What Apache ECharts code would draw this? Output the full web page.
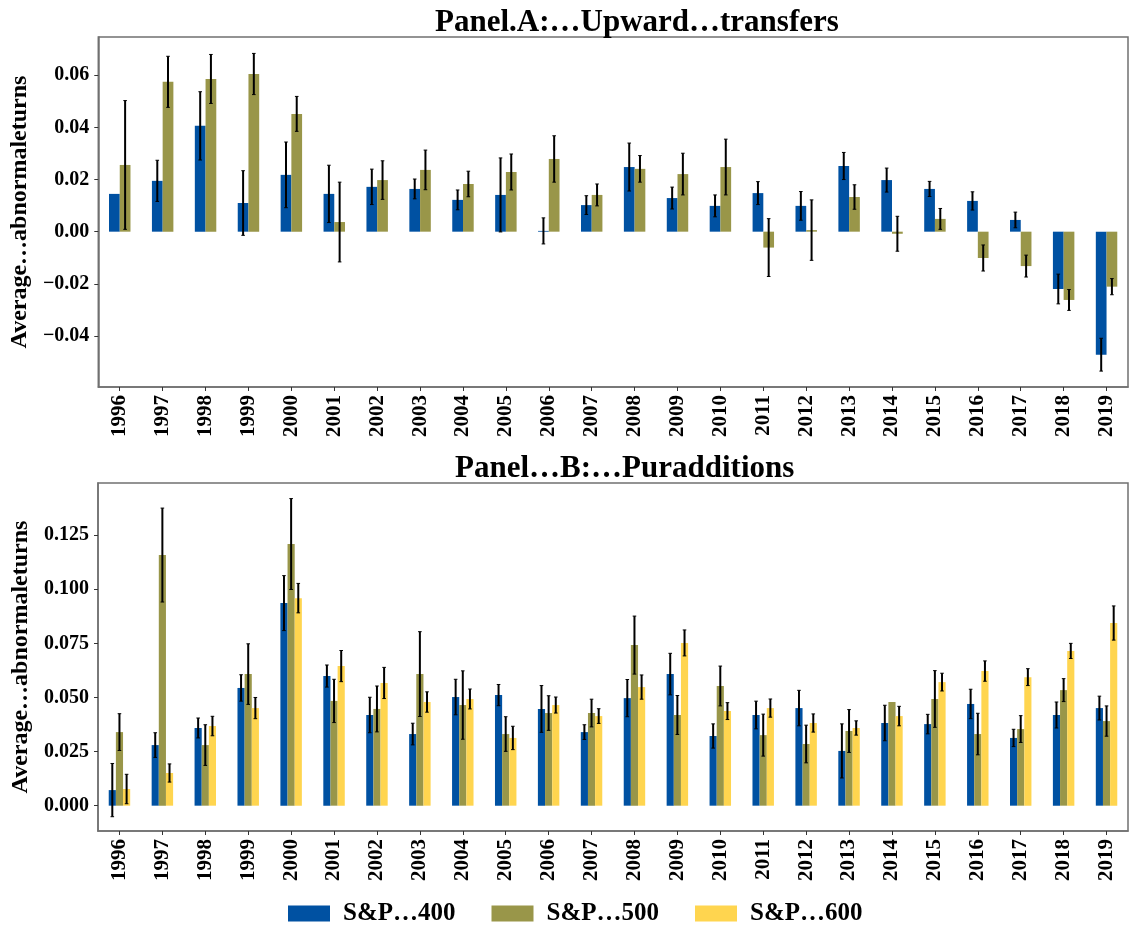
<!DOCTYPE html>
<html>
<head>
<meta charset="utf-8">
<script src="https://cdn.jsdelivr.net/npm/echarts@6/dist/echarts.min.js"></script>
<style>
  html, body { margin: 0; padding: 0; background: #fff; }
  #chart { width: 1130px; height: 929px; }
</style>
</head>
<body>
<div id="chart"></div>
<script>
// Years on the x axis of both panels
const years = ['1996','1997','1998','1999','2000','2001','2002','2003','2004','2005','2006','2007',
               '2008','2009','2010','2011','2012','2013','2014','2015','2016','2017','2018','2019'];

const seriesNames = ['S&P\u2026400', 'S&P\u2026500', 'S&P\u2026600'];

// Panel A: upward transfers (mean abnormal return and half-width of error bar)
const upSP400 = [0.0145, 0.0195, 0.0406, 0.0110, 0.0218, 0.0145, 0.0172, 0.0164, 0.0122, 0.0141, 0.0003, 0.0102,
                 0.0248, 0.0129, 0.0099, 0.0148, 0.0099, 0.0252, 0.0198, 0.0164, 0.0118, 0.0045, -0.0220, -0.0472];
const upSP400Err = [null, 0.0079, 0.0131, 0.0124, 0.0126, 0.0110, 0.0068, 0.0038, 0.0038, 0.0142, 0.0050, 0.0036,
                    0.0092, 0.0042, 0.0042, 0.0044, 0.0055, 0.0052, 0.0046, 0.0029, 0.0035, 0.0030, 0.0057, 0.0063];
const upSP500 = [0.0256, 0.0575, 0.0586, 0.0605, 0.0452, 0.0037, 0.0198, 0.0237, 0.0183, 0.0229, 0.0279, 0.0141,
                 0.0241, 0.0221, 0.0248, -0.0061, 0.0006, 0.0133, -0.0008, 0.0049, -0.0101, -0.0132, -0.0262, -0.0211];
const upSP500Err = [0.0247, 0.0098, 0.0094, 0.0079, 0.0067, 0.0153, 0.0074, 0.0076, 0.0049, 0.0069, 0.0089, 0.0042,
                    0.0051, 0.0080, 0.0107, 0.0111, 0.0116, 0.0047, 0.0067, 0.0040, 0.0050, 0.0042, 0.0040, 0.0031];

// Panel B: pure additions
const addSP400 = [0.0072, 0.0280, 0.0359, 0.0544, 0.0936, 0.0599, 0.0419, 0.0331, 0.0502, 0.0511, 0.0447, 0.0340,
                  0.0497, 0.0608, 0.0322, 0.0419, 0.0451, 0.0253, 0.0382, 0.0377, 0.0470, 0.0313, 0.0419, 0.0451];
const addSP400Err = [0.0123, 0.0057, 0.0046, 0.0061, 0.0127, 0.0051, 0.0082, 0.0050, 0.0082, 0.0049, 0.0108, 0.0034,
                     0.0086, 0.0096, 0.0056, 0.0064, 0.0082, 0.0125, 0.0082, 0.0045, 0.0068, 0.0040, 0.0060, 0.0055];
const addSP500 = [0.0340, 0.1158, 0.0280, 0.0608, 0.1209, 0.0484, 0.0447, 0.0608, 0.0465, 0.0331, 0.0428, 0.0428,
                  0.0742, 0.0419, 0.0553, 0.0326, 0.0285, 0.0345, 0.0479, 0.0493, 0.0331, 0.0354, 0.0534, 0.0391];
const addSP500Err = [0.0085, 0.0217, 0.0094, 0.0140, 0.0210, 0.0100, 0.0106, 0.0196, 0.0158, 0.0080, 0.0080, 0.0064,
                     0.0134, 0.0090, 0.0092, 0.0097, 0.0087, 0.0099, null, 0.0131, 0.0096, 0.0062, 0.0053, 0.0070];
const addSP600 = [0.0077, 0.0151, 0.0368, 0.0451, 0.0959, 0.0645, 0.0567, 0.0479, 0.0493, 0.0313, 0.0465, 0.0414,
                  0.0548, 0.0752, 0.0437, 0.0451, 0.0382, 0.0359, 0.0414, 0.0571, 0.0622, 0.0594, 0.0715, 0.0844];
const addSP600Err = [0.0068, 0.0042, 0.0045, 0.0049, 0.0068, 0.0072, 0.0072, 0.0047, 0.0046, 0.0054, 0.0037, 0.0034,
                     0.0056, 0.0060, 0.0039, 0.0042, 0.0042, 0.0033, 0.0045, 0.0041, 0.0047, 0.0039, 0.0035, 0.0079];

// Tick values
const yTicksA = [-0.04, -0.02, 0.00, 0.02, 0.04, 0.06];
const yTicksB = [0.000, 0.025, 0.050, 0.075, 0.100, 0.125];

const colors = ['#0051A2', '#999649', '#FFD54F'];
const serif = '"Liberation Serif", "DejaVu Serif", serif';
const frame = '#707070';

function fmt(v, d) {
  const s = Math.abs(v).toFixed(d);
  return (v < -1e-12 ? '\u2212' : '') + s;
}

// Error bar drawn centred over bar slot `slot` out of `count` bars per category
function errorSeries(values, errs, axisIdx, slot, count, frac) {
  const data = values.map((v, i) => [i, v, errs[i] == null ? NaN : errs[i]]);
  return {
    type: 'custom',
    xAxisIndex: axisIdx,
    yAxisIndex: axisIdx,
    z: 10,
    silent: true,
    data: data,
    renderItem: function (params, api) {
      const e = api.value(2);
      if (isNaN(e)) return null;
      const idx = api.value(0);
      const v = api.value(1);
      const bw = api.size([1, 0])[0];
      const off = (slot - (count - 1) / 2) * bw * frac;
      const hi = api.coord([idx, v + e]);
      const lo = api.coord([idx, v - e]);
      const x = hi[0] + off;
      const cap = 1.8;
      return {
        type: 'group',
        children: [
          { type: 'line', shape: { x1: x, y1: hi[1], x2: x, y2: lo[1] }, style: { stroke: '#000', lineWidth: 2 } },
          { type: 'line', shape: { x1: x - cap, y1: hi[1], x2: x + cap, y2: hi[1] }, style: { stroke: '#000', lineWidth: 1 } },
          { type: 'line', shape: { x1: x - cap, y1: lo[1], x2: x + cap, y2: lo[1] }, style: { stroke: '#000', lineWidth: 1 } }
        ]
      };
    }
  };
}

function xAxis(gridIndex) {
  return {
    type: 'category',
    gridIndex: gridIndex,
    data: years,
    axisLine: { show: true, onZero: false, lineStyle: { color: frame, width: 1.5 } },
    axisTick: { show: true, alignWithLabel: true, interval: 0, length: 4, lineStyle: { color: '#333' } },
    axisLabel: { interval: 0, rotate: 90, margin: 8, color: '#000', fontFamily: serif, fontWeight: 'bold', fontSize: 21 },
    splitLine: { show: false }
  };
}

function yAxis(gridIndex, min, max, ticks, dec) {
  return {
    type: 'value',
    gridIndex: gridIndex,
    min: min,
    max: max,
    name: 'Average\u2026abnormaleturns',
    nameLocation: 'middle',
    nameRotate: 90,
    nameGap: 65,
    nameTextStyle: { color: '#000', fontFamily: serif, fontWeight: 'bold', fontSize: 24 },
    axisLine: { show: true, lineStyle: { color: frame, width: 1.5 } },
    axisTick: { show: true, length: 4, lineStyle: { color: '#333' }, customValues: ticks },
    axisLabel: { color: '#000', fontFamily: serif, fontWeight: 'bold', fontSize: 20, margin: 9,
                 customValues: ticks, formatter: v => fmt(v, dec) },
    splitLine: { show: false }
  };
}

const chart = echarts.init(document.getElementById('chart'), null, { renderer: 'canvas' });

chart.setOption({
  animation: false,
  backgroundColor: '#fff',
  title: [
    { text: 'Panel.A:\u2026Upward\u2026transfers', left: 430, top: 2,
      textStyle: { fontFamily: serif, fontWeight: 'bold', fontSize: 31, color: '#000' } },
    { text: 'Panel\u2026B:\u2026Puradditions', left: 450, top: 448,
      textStyle: { fontFamily: serif, fontWeight: 'bold', fontSize: 31, color: '#000' } }
  ],
  legend: {
    data: seriesNames,
    left: 283,
    top: 896,
    itemWidth: 42,
    itemHeight: 16,
    itemGap: 36,
    icon: 'rect',
    textStyle: { fontFamily: serif, fontWeight: 'bold', fontSize: 25, color: '#000', padding: [0, 0, 0, 8] }
  },
  grid: [
    { left: 98, top: 37, width: 1030, height: 350, show: true, borderColor: frame, borderWidth: 1.5, backgroundColor: 'transparent' },
    { left: 98, top: 483, width: 1030, height: 348, show: true, borderColor: frame, borderWidth: 1.5, backgroundColor: 'transparent' }
  ],
  xAxis: [xAxis(0), xAxis(1)],
  yAxis: [
    yAxis(0, -0.0596, 0.0747, yTicksA, 2),
    yAxis(1, -0.0117, 0.1491, yTicksB, 3)
  ],
  series: [
    { name: seriesNames[0], type: 'bar', xAxisIndex: 0, yAxisIndex: 0, data: upSP400,
      barWidth: '25%', barGap: '0%', itemStyle: { color: colors[0] } },
    { name: seriesNames[1], type: 'bar', xAxisIndex: 0, yAxisIndex: 0, data: upSP500,
      barWidth: '25%', barGap: '0%', itemStyle: { color: colors[1] } },
    errorSeries(upSP400, upSP400Err, 0, 0, 2, 0.25),
    errorSeries(upSP500, upSP500Err, 0, 1, 2, 0.25),

    { name: seriesNames[0], type: 'bar', xAxisIndex: 1, yAxisIndex: 1, data: addSP400,
      barWidth: '16.67%', barGap: '0%', itemStyle: { color: colors[0] } },
    { name: seriesNames[1], type: 'bar', xAxisIndex: 1, yAxisIndex: 1, data: addSP500,
      barWidth: '16.67%', barGap: '0%', itemStyle: { color: colors[1] } },
    { name: seriesNames[2], type: 'bar', xAxisIndex: 1, yAxisIndex: 1, data: addSP600,
      barWidth: '16.67%', barGap: '0%', itemStyle: { color: colors[2] } },
    errorSeries(addSP400, addSP400Err, 1, 0, 3, 1 / 6),
    errorSeries(addSP500, addSP500Err, 1, 1, 3, 1 / 6),
    errorSeries(addSP600, addSP600Err, 1, 2, 3, 1 / 6)
  ]
});
</script>
</body>
</html>
